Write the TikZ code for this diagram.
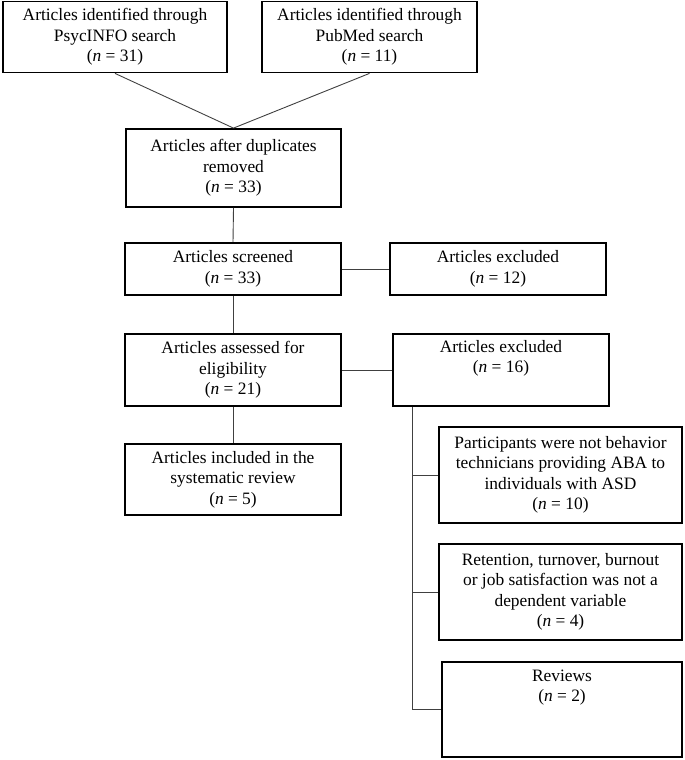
\documentclass[tikz,border=0pt]{standalone}
\usepackage{fontspec}
\setmainfont{Liberation Serif}
\begin{document}
\begin{tikzpicture}[x=1pt,y=1pt]
\tikzset{
  box/.style={draw=black, line width=1.8pt, align=center, inner sep=0pt,
    font=\fontsize{17.4}{20.5}\selectfont,
    execute at begin node={\rule{0pt}{17.5pt}}},
  link/.style={draw=black!75, line width=0.9pt},
}
\useasboundingbox (0,0) rectangle (685,-760);
% top row
\node[box, minimum width=224pt, minimum height=71pt] (A) at (115,-37)
  {Articles identified through\\PsycINFO search\\(\textit{n} = 31)};
\node[box, minimum width=215pt, minimum height=71pt] (B) at (369.5,-37)
  {Articles identified through\\PubMed search\\(\textit{n} = 11)};
% main column
\node[box, minimum width=215pt, minimum height=78pt] (C) at (233.5,-168)
  {Articles after duplicates\\removed\\(\textit{n} = 33)};
\node[box, minimum width=216pt, minimum height=52pt] (D) at (233,-269)
  {Articles screened\\(\textit{n} = 33)};
\node[box, minimum width=216pt, minimum height=52pt] (E) at (498,-269)
  {Articles excluded\\(\textit{n} = 12)};
\node[box, minimum width=216pt, minimum height=72pt] (F) at (233,-370)
  {Articles assessed for\\eligibility\\(\textit{n} = 21)};
\node[box, minimum width=216pt, minimum height=72pt] (G) at (501,-370)
  {Articles excluded\\(\textit{n} = 16)\\\strut};
\node[box, minimum width=216pt, minimum height=71pt] (H) at (233,-479.5)
  {Articles included in the\\systematic review\\(\textit{n} = 5)};
% exclusion reasons
\node[box, minimum width=243pt, minimum height=96pt] (I) at (560.5,-475)
  {Participants were not behavior\\technicians providing ABA to\\individuals with ASD\\(\textit{n} = 10)};
\node[box, minimum width=243pt, minimum height=96pt] (J) at (560.5,-592)
  {Retention, turnover, burnout\\or job satisfaction was not a\\dependent variable\\(\textit{n} = 4)};
\node[box, minimum width=240pt, minimum height=95pt] (K) at (562,-709.5)
  {Reviews\\(\textit{n} = 2)\\\strut\\\strut};
% connectors
\draw[link] (A.south) -- (C.north);
\draw[link] (B.south) -- (C.north);
\draw[link] (C.south) -- (D.north);
\draw[link] (D.east) -- (E.west);
\draw[link] (D.south) -- (F.north);
\draw[link] (F.east) -- (G.west);
\draw[link] (F.south) -- (H.north);
\coordinate (gx) at ([xshift=20pt]G.south west);
\draw[link] (gx) |- (I.west);
\draw[link] (gx) |- (J.west);
\draw[link] (gx) |- (K.west);
\end{tikzpicture}
\end{document}
